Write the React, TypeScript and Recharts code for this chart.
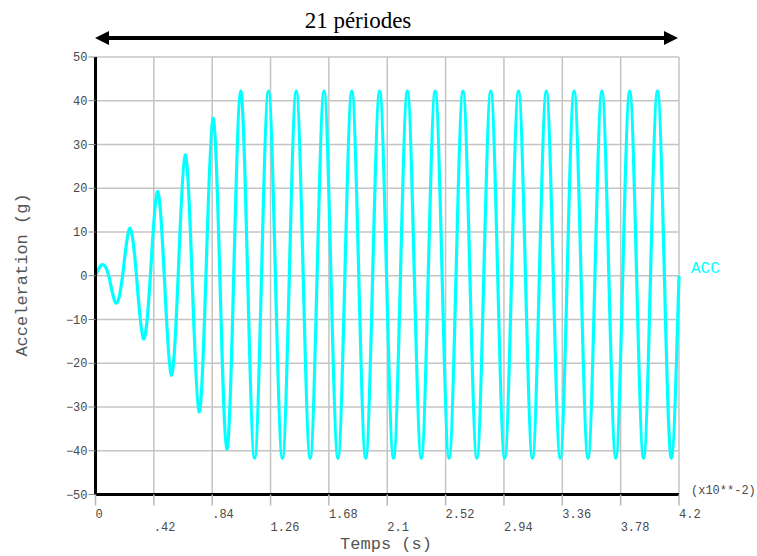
import React from "react";
import { LineChart, Line, XAxis, YAxis, CartesianGrid } from "recharts";

// Time (x10^-2 s) at each sampled extreme / zero crossing
const time = [
  0, 0.045, 0.095, 0.145, 0.195, 0.245, 0.295, 0.345, 0.395, 0.445, 0.495, 0.545, 0.595,
  0.645, 0.695, 0.745, 0.795, 0.845, 0.895, 0.945, 0.995, 1.045, 1.095, 1.145, 1.195,
  1.245, 1.295, 1.345, 1.395, 1.445, 1.495, 1.545, 1.595, 1.645, 1.695, 1.745, 1.795,
  1.845, 1.895, 1.945, 1.995, 2.045, 2.095, 2.145, 2.195, 2.245, 2.295, 2.345, 2.395,
  2.445, 2.495, 2.545, 2.595, 2.645, 2.695, 2.745, 2.795, 2.845, 2.895, 2.945, 2.995,
  3.045, 3.095, 3.145, 3.195, 3.245, 3.295, 3.345, 3.395, 3.445, 3.495, 3.545, 3.595,
  3.645, 3.695, 3.745, 3.795, 3.845, 3.895, 3.945, 3.995, 4.045, 4.095, 4.145, 4.2,
];

// Acceleration (g)
const acc = [
  0, 2.5, 0, -6.2, 0, 10.8, 0, -14.4, 0, 19.2, 0, -22.7, 0, 27.6, 0, -31.1, 0, 36.0, 0, -39.6, 0,
  42.2, 0, -41.7, 0, 42.2, 0, -41.7, 0, 42.2, 0, -41.7, 0, 42.2, 0, -41.7, 0,
  42.2, 0, -41.7, 0, 42.2, 0, -41.7, 0, 42.2, 0, -41.7, 0, 42.2, 0, -41.7, 0,
  42.2, 0, -41.7, 0, 42.2, 0, -41.7, 0, 42.2, 0, -41.7, 0, 42.2, 0, -41.7, 0,
  42.2, 0, -41.7, 0, 42.2, 0, -41.7, 0, 42.2, 0, -41.7, 0, 42.2, 0, -41.7, 0,
];

const xTicks = [0, 0.42, 0.84, 1.26, 1.68, 2.1, 2.52, 2.94, 3.36, 3.78, 4.2];
const xTickLabels = ["0", ".42", ".84", "1.26", "1.68", "2.1", "2.52", "2.94", "3.36", "3.78", "4.2"];
const yTicks = [-50, -40, -30, -20, -10, 0, 10, 20, 30, 40, 50];
const yTickLabels = ["\u221250", "\u221240", "\u221230", "\u221220", "\u221210", "0", "10", "20", "30", "40", "50"];

const seriesName = "ACC";
const title = "21 p\u00e9riodes";
const xTitle = "Temps (s)";
const yTitle = "Acceleration (g)";
const xScaleNote = "(x10**-2)";

const data = time.map((t, i) => ({ t, acc: acc[i] }));

const MONO = "'Liberation Mono', 'DejaVu Sans Mono', monospace";

const XTick = (props: any) => {
  const { x, y, index } = props;
  const row = index % 2 === 0 ? 0 : 1;
  return (
    <text x={x} y={y} dy={row === 0 ? 10 : 23} textAnchor="start" fontFamily={MONO} fontSize={12} fill="#4a4a4a">
      {xTickLabels[index]}
    </text>
  );
};

const YTick = (props: any) => {
  const { x, y, index } = props;
  return (
    <text x={x} y={y} dy="0.35em" textAnchor="end" fontFamily={MONO} fontSize={12} fill="#4a4a4a">
      {yTickLabels[index]}
    </text>
  );
};

export default function App() {
  return (
    <div style={{ position: "absolute", left: 0, top: 0, width: 757, height: 556, background: "#fff" }}>
      <LineChart
        width={757}
        height={556}
        data={data}
        margin={{ top: 57, right: 78, bottom: 31.5, left: 35.5 }}
      >
        <CartesianGrid stroke="#c4c4c4" strokeWidth={1.5} />
        <XAxis
          dataKey="t"
          type="number"
          domain={[0, 4.2]}
          ticks={xTicks}
          interval={0}
          height={30}
          axisLine={{ stroke: "#000", strokeWidth: 3 }}
          tickLine={{ stroke: "#b8b8b8", strokeWidth: 1.5 }}
          tickSize={11}
          tickMargin={2}
          tick={<XTick />}
        />
        <YAxis
          type="number"
          domain={[-50, 50]}
          ticks={yTicks}
          interval={0}
          width={60}
          axisLine={{ stroke: "#000", strokeWidth: 3 }}
          tickLine={{ stroke: "#888", strokeWidth: 1 }}
          tickSize={7}
          tickMargin={1}
          tick={<YTick />}
        />
        <Line
          type="natural"
          dataKey="acc"
          stroke="#00ffff"
          strokeWidth={3.2}
          dot={false}
          isAnimationActive={false}
        />
      </LineChart>
      <svg
        width={757}
        height={556}
        style={{ position: "absolute", left: 0, top: 0, pointerEvents: "none" }}
      >
        <text x={358} y={28} textAnchor="middle" fontFamily="'Liberation Serif', 'DejaVu Serif', serif" fontSize={23} fill="#000">
          {title}
        </text>
        <line x1={104} y1={38} x2={669} y2={38} stroke="#000" strokeWidth={4} />
        <polygon points="95,38 109,31 109,45" fill="#000" />
        <polygon points="678,38 664,31 664,45" fill="#000" />
        <text x={691} y={273} fontFamily={MONO} fontSize={16} fill="#00ffff">
          {seriesName}
        </text>
        <text x={691} y={494} fontFamily={MONO} fontSize={12} fill="#4a4a4a">
          {xScaleNote}
        </text>
        <text x={386} y={549} textAnchor="middle" fontFamily={MONO} fontSize={17} fill="#555">
          {xTitle}
        </text>
        <text
          x={27}
          y={275}
          textAnchor="middle"
          fontFamily={MONO}
          fontSize={17}
          fill="#555"
          transform="rotate(-90 27 275)"
        >
          {yTitle}
        </text>
      </svg>
    </div>
  );
}
